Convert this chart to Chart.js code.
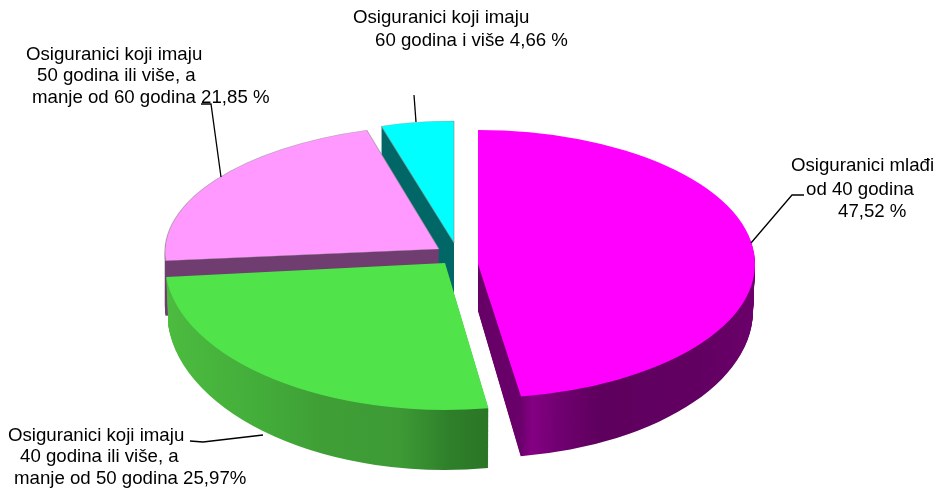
<!DOCTYPE html>
<html><head><meta charset="utf-8">
<style>html,body{margin:0;padding:0;background:#fff}#w{width:937px;height:488px;position:relative}</style>
<script src="https://cdn.jsdelivr.net/npm/chart.js@4/dist/chart.umd.min.js"></script>
</head><body><div id="w"><canvas id="c"></canvas></div>
<script>
const categories = ["Osiguranici mlađi od 40 godina","Osiguranici koji imaju 40 godina ili više, a manje od 50 godina","Osiguranici koji imaju 50 godina ili više, a manje od 60 godina","Osiguranici koji imaju 60 godina i više"];
const shares = [47.52, 25.97, 21.85, 4.66];
const topColors = ["#ff00ff","#50e44a","#ff99ff","#00ffff"];
const borders = [0,0,1,1];

// placement of each exploded, tilted slice: ellipse of top face, and change for the bottom face
const faces = [
 {cx:478,cy:264,rx:277,ry:134,dy:47,dry:13,drx:-2,skew:0},
 {cx:445,cy:263,rx:280,ry:147,dy:48,dry:12,drx:-2,skew:0},
 {cx:439,cy:249,rx:274,ry:124,dy:55,dry:0,drx:0,skew:-0.059},
 {cx:454,cy:243,rx:252,ry:122,dy:50,dry:0,drx:0,skew:0}
];
const walls = [
 [[478,"#660066"],[520,"#6a006a"],[532,"#840084"],[560,"#700070"],[600,"#5e005e"],[700,"#620062"],[755,"#6a006a"]],
 [[166,"#4cbb3f"],[260,"#43ad3a"],[320,"#3f9f36"],[400,"#3d9a35"],[450,"#2f7f2a"],[488,"#2a7626"]],
 [[164,"#6f3d6f"],[440,"#6f3d6f"]],
 [[380,"#006666"],[455,"#006666"]]
];
const labelLines = [
 [["Osiguranici mlađi",791,166],["od 40 godina",806,190],["47,52 %",838,212]],
 [["Osiguranici koji imaju",8,436],["40 godina ili više, a",20,457],["manje od 50 godina 25,97%",14,479]],
 [["Osiguranici koji imaju",26,55],["50 godina ili više, a",37,76],["manje od 60 godina 21,85 %",32,98]],
 [["Osiguranici koji imaju",353,18],["60 godina i više 4,66 %",375,41]]
];
const leaders = [
 [[804,195],[792,195],[751,243]],
 [[190,441],[203,442],[263,435]],
 [[201,104],[211,104],[221,177]],
 [[414,95],[416,122]]
];

const pie3d = {
 id:'pie3d',
 beforeDatasetsDraw(chart){
  const ctx = chart.ctx, arcs = chart.getDatasetMeta(0).data;
  for (let i = arcs.length-1; i >= 0; i--){
   const arc = arcs[i], f = faces[i], R = arc.outerRadius, o = arc.options;
   const place = (t) => {
    const sx = (f.rx+f.drx*t)/R, sy = (f.ry+f.dry*t)/R;
    ctx.translate(f.cx, f.cy+f.dy*t);
    ctx.transform(1, 0, f.skew, 1, 0, 0);
    ctx.scale(sx, sy);
    ctx.translate(-arc.x, -arc.y);
   };
   const st = walls[i], X0 = st[0][0], X1 = st[st.length-1][0], sx0 = f.rx/R;
   const g = ctx.createLinearGradient(arc.x+(X0-f.cx)/sx0, 0, arc.x+(X1-f.cx)/sx0, 0);
   st.forEach(s => g.addColorStop((s[0]-X0)/(X1-X0), s[1]));
   const wallOpts = Object.create(o, {backgroundColor:{value:g}, borderWidth:{value:0}});
   arc.options = wallOpts;
   const n = Math.ceil(f.dy);
   for (let k = n; k >= 1; k--){
    ctx.save(); place(k/n); arc.draw(ctx); ctx.restore();
   }
   arc.options = o;
   ctx.save(); place(0); arc.draw(ctx); ctx.restore();
  }
  ctx.save();
  ctx.strokeStyle = '#000'; ctx.lineWidth = 1.3;
  leaders.forEach(l => {
   ctx.beginPath();
   l.forEach((p,j) => j ? ctx.lineTo(p[0],p[1]) : ctx.moveTo(p[0],p[1]));
   ctx.stroke();
  });
  ctx.fillStyle = '#000';
  ctx.font = '18.67px "Liberation Sans", Arial, sans-serif';
  ctx.textBaseline = 'middle'; ctx.textAlign = 'left';
  labelLines.forEach(b => b.forEach(t => ctx.fillText(t[0], t[1], t[2])));
  ctx.restore();
  return false;
 }
};

new Chart(document.getElementById('c'), {
 type:'pie',
 data:{labels:categories, datasets:[{data:shares, backgroundColor:topColors, borderColor:'rgba(140,140,140,0.6)', borderWidth:borders, hoverOffset:0}]},
 options:{responsive:true, maintainAspectRatio:false, animation:false,
  plugins:{legend:{display:false}, tooltip:{enabled:false}, title:{display:false}},
  events:[]},
 plugins:[pie3d]
});
</script></body></html>
